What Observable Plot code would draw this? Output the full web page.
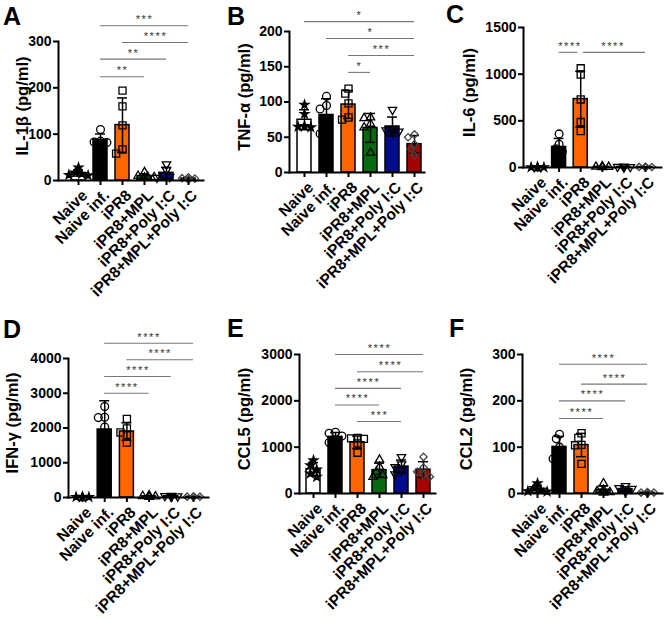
<!DOCTYPE html>
<html><head><meta charset="utf-8">
<script src="https://cdn.jsdelivr.net/npm/d3@7"></script>
<script src="https://cdn.jsdelivr.net/npm/@observablehq/plot@0.6"></script>
<style>
body{margin:0;background:#fff;}
#wrap{position:relative;width:665px;height:619px;overflow:hidden;font-family:"Liberation Sans",Arial,sans-serif;}
#wrap > svg{position:absolute;overflow:visible;}
</style></head>
<body><div id="wrap"></div>
<script>
const groups = ["Naive","Naive inf.","iPR8","iPR8+MPL","iPR8+Poly I:C","iPR8+MPL+Poly I:C"];
const barColors = ["#ffffff","#000000","#ff6600","#066a10","#000c8c","#a50000"];

// A: IL-1β
const il1bValues = [[28,17,14,11,12],[110,85,83,80,82],[194,160,119,67,58],[18,10,8,7,6],[35,22,12,8,6],[7,5,4,3,2]];
const il1bTicks = [0,100,200,300];
const il1bSig = [["Naive inf.","iPR8+MPL+Poly I:C",334,"***"],["iPR8","iPR8+MPL+Poly I:C",298,"****"],["Naive inf.","iPR8+Poly I:C",262,"**"],["Naive inf.","iPR8+MPL",224,"**"]];

// B: TNF-α
const tnfValues = [[96,83,65,66,64],[108,95,90,60,55],[119,112,98,78,75],[78,77,69,64,28],[89,62,60,58,57],[54,50,40,33,24]];
const tnfTicks = [0,50,100,150,200];
const tnfSig = [["Naive","iPR8+MPL+Poly I:C",214,"*"],["Naive inf.","iPR8+MPL+Poly I:C",190,"*"],["iPR8","iPR8+MPL+Poly I:C",166,"***"],["iPR8","iPR8+MPL",142,"*"]];

// C: IL-6
const il6Values = [[3,2,2,1,2],[360,250,200,170,120],[1063,996,729,487,391],[12,8,6,5,4],[10,8,6,4,3],[8,6,5,4,3]];
const il6Ticks = [0,500,1000,1500];
const il6Sig = [["Naive inf.","iPR8",1234,"****"],["iPR8","iPR8+MPL+Poly I:C",1234,"****"]];

// D: IFN-γ
const ifngValues = [[20,15,10,8,12],[2620,2310,2300,2030,525],[2260,1990,1870,1800,1580],[60,40,30,20,15],[50,45,35,30,25],[30,25,22,20,18]];
const ifngTicks = [0,1000,2000,3000,4000];
const ifngSig = [["Naive inf.","iPR8+MPL+Poly I:C",4439,"****"],["iPR8","iPR8+MPL+Poly I:C",3962,"****"],["Naive inf.","iPR8+Poly I:C",3484,"****"],["Naive inf.","iPR8+MPL",2998,"****"]];

// E: CCL5
const ccl5Values = [[716,608,515,430,358],[1320,1300,1240,1150,1100],[1200,1190,1180,1080,880],[730,573,465,394,358],[787,630,573,501,415],[790,560,470,400,360]];
const ccl5Ticks = [0,1000,2000,3000];
const ccl5Sig = [["Naive inf.","iPR8+MPL+Poly I:C",3000,"****"],["iPR8","iPR8+MPL+Poly I:C",2627,"****"],["Naive inf.","iPR8+Poly I:C",2269,"****"],["Naive inf.","iPR8+MPL",1911,"****"],["iPR8","iPR8+Poly I:C",1553,"***"]];

// F: CCL2
const ccl2Values = [[22,12,8,5,4],[128,118,100,82,75],[130,120,105,104,64],[22,8,5,3,2],[16,12,10,6,4],[3,2,2,1,1]];
const ccl2Ticks = [0,100,200,300];
const ccl2Sig = [["Naive inf.","iPR8+MPL+Poly I:C",279,"****"],["iPR8","iPR8+MPL+Poly I:C",236,"****"],["Naive inf.","iPR8+Poly I:C",200,"****"],["Naive inf.","iPR8+MPL",162,"****"]];

const triangleDown = {
  draw(context, size) {
    const y = -Math.sqrt(size / (Math.sqrt(3) * 3));
    context.moveTo(0, -y * 2);
    context.lineTo(-Math.sqrt(3) * y, y);
    context.lineTo(Math.sqrt(3) * y, y);
    context.closePath();
  }
};
const symbols = ["star","circle","square","triangle",triangleDown,"diamond2"];
const symbolR = [2.7, 3.9, 4.0, 3.1, 3.1, 3.3];

const panels = [
  {letter:"A", label:"IL-1β (pg/ml)", values:il1bValues, ticks:il1bTicks, sig:il1bSig, left:0, top:0, W:222, H:310, ml:58, mt:41, y0:180, cx:[78,188], axisEnd:203, labelX:22, lx:3, ly:25},
  {letter:"B", label:"TNF-α (pg/ml)", values:tnfValues, ticks:tnfTicks, sig:tnfSig, left:222, top:0, W:222, H:310, ml:67, mt:31, y0:172, cx:[82,192], axisEnd:202, labelX:22, lx:5, ly:25},
  {letter:"C", label:"IL-6 (pg/ml)", values:il6Values, ticks:il6Ticks, sig:il6Sig, left:444, top:0, W:221, H:310, ml:79, mt:27, y0:167, cx:[93,201], axisEnd:217, labelX:25, lx:2, ly:23},
  {letter:"D", label:"IFN-γ (pg/ml)", values:ifngValues, ticks:ifngTicks, sig:ifngSig, left:0, top:310, W:222, H:309, ml:68, mt:48, y0:187, cx:[82,193], axisEnd:208, labelX:12, lx:3, ly:28},
  {letter:"E", label:"CCL5 (pg/ml)", values:ccl5Values, ticks:ccl5Ticks, sig:ccl5Sig, left:222, top:310, W:222, H:309, ml:77, mt:44, y0:183, cx:[91,201], axisEnd:213, labelX:22, lx:5, ly:27},
  {letter:"F", label:"CCL2 (pg/ml)", values:ccl2Values, ticks:ccl2Ticks, sig:ccl2Sig, left:444, top:310, W:221, H:309, ml:78, mt:44, y0:183, cx:[93,203], axisEnd:218, labelX:22, lx:5, ly:27}
];

const wrap = document.getElementById("wrap");

function makePanel(p) {
  const yMax = p.ticks[p.ticks.length - 1];
  const plotH = p.y0 - p.mt;
  const pxPerX = (p.cx[1] - p.cx[0]) / 5;
  const pxPerY = plotH / yMax;
  const summary = p.values.map((v, i) => {
    const m = d3.mean(v), s = d3.deviation(v);
    return {i, mean: m, lo: Math.max(0, m - s), hi: m + s};
  });
  // horizontal spread of overlapping points (scatter-dot layout)
  const pts = [];
  p.values.forEach((vals, i) => {
    const placed = [];
    [...vals].sort((a, b) => b - a).forEach(v => {
      const py = v * pxPerY;
      let ox = 0;
      for (const k of [0, -1, 1, -2, 2, -3, 3]) {
        const c = k * 3.2;
        if (placed.every(q => Math.hypot(q[0] - c, q[1] - py) >= 5.5)) { ox = c; break; }
      }
      placed.push([ox, py]);
      pts.push({i, v, xj: i + ox / pxPerX});
    });
  });
  const sigRows = p.sig.map(s => ({a: groups.indexOf(s[0]), b: groups.indexOf(s[1]), y: s[2], t: s[3]}));
  sigRows.forEach(r => {
    r.a2 = r.a; r.b2 = r.b;
    sigRows.forEach(o => {
      if (o === r || o.y !== r.y) return;
      if (o.b === r.a) r.a2 = r.a + 0.13;
      if (o.a === r.b) r.b2 = r.b - 0.13;
    });
  });
  const half = 7 / pxPerX, cap = 5 / pxPerX;
  const xTicks = [0,1,2,3,4,5];
  const svg = Plot.plot({
    width: p.W, height: p.H,
    marginLeft: p.ml, marginTop: p.mt, marginBottom: p.H - p.y0, marginRight: p.W - p.axisEnd,
    style: {fontFamily: "'Liberation Sans', Arial, sans-serif", fontWeight: "bold", fontSize: "14px", color: "#000", background: "transparent", overflow: "visible"},
    x: {type: "linear", domain: [0, 5], range: p.cx},
    y: {domain: [0, yMax]},
    color: {type: "identity"},
    marks: [
      Plot.rect(summary, {x1: d => d.i - half, x2: d => d.i + half, y1: d => 0, y2: "mean", fill: d => barColors[d.i], stroke: "#000", strokeWidth: 1.5}),
      Plot.ruleX(summary, {x: "i", y1: "lo", y2: "hi", stroke: "#000", strokeWidth: 1.5}),
      Plot.ruleY(summary, {x1: d => d.i - cap, x2: d => d.i + cap, y: "hi", stroke: "#000", strokeWidth: 1.5}),
      Plot.ruleY(summary, {x1: d => d.i - cap, x2: d => d.i + cap, y: "lo", stroke: "#000", strokeWidth: 1.5}),
      ...symbols.map((s, i) => Plot.dot(pts.filter(q => q.i === i), {
        x: "xj", y: "v", symbol: s, r: symbolR[i],
        stroke: i === 5 ? "#444" : "#000", fill: i === 0 ? "#000" : "none", strokeWidth: 1.3
      })),
      Plot.ruleY(sigRows, {x1: "a2", x2: "b2", y: "y", stroke: "#777", strokeWidth: 1.1}),
      Plot.text(sigRows, {x: d => (d.a + d.b) / 2, y: "y", text: "t", fontSize: 11, fontWeight: "normal", fill: "#333", lineAnchor: "middle", dy: -6}),
      Plot.frame({anchor: "left", stroke: "#000", strokeWidth: 2}),
      Plot.frame({anchor: "bottom", stroke: "#000", strokeWidth: 2}),
      Plot.axisY({ticks: p.ticks, tickFormat: d3.format("d"), tickSize: 5, tickPadding: 2, fontSize: 14, fontWeight: "bold", strokeWidth: 2, label: null}),
      Plot.axisX({ticks: xTicks, tickSize: 5, strokeWidth: 2, fill: "none", label: null}),
      Plot.axisX({ticks: xTicks, tickFormat: i => groups[i], tickRotate: -45, tickSize: 0, tickPadding: 8, dx: 2, textAnchor: "end", lineAnchor: "top", fontSize: 15.5, fontWeight: "bold", stroke: "none", label: null}),
      Plot.text([p.label], {text: d => d, frameAnchor: "left", textAnchor: "middle", rotate: -90, dx: p.labelX - p.ml, dy: -5, fontSize: 16.5, fontWeight: "bold", lineAnchor: "middle"})
    ]
  });
  d3.select(svg).selectAll("text").filter(function() { return /^\*+$/.test(this.textContent); }).attr("letter-spacing", "1.6px");
  svg.style.left = p.left + "px";
  svg.style.top = p.top + "px";
  wrap.appendChild(svg);
}
panels.forEach(makePanel);

// panel letters
const ov = d3.select(wrap).append("svg").attr("width", 665).attr("height", 619).style("left", "0px").style("top", "0px").style("pointer-events", "none");
ov.selectAll("text").data(panels).join("text")
  .attr("x", d => d.left + d.lx).attr("y", d => d.top + d.ly)
  .attr("font-family", "'Liberation Sans', Arial, sans-serif").attr("font-weight", "bold").attr("font-size", 25)
  .text(d => d.letter);
</script>
</body></html>
